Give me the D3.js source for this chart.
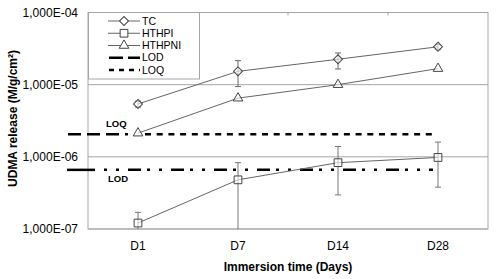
<!DOCTYPE html>
<html>
<head>
<meta charset="utf-8">
<script src="https://cdn.jsdelivr.net/npm/d3@7"></script>
<style>
  body { margin: 0; background: #fff; }
  svg { font-family: "Liberation Sans", Arial, sans-serif; }
</style>
</head>
<body>
<div id="chart"></div>
<script>
const days = ["D1", "D7", "D14", "D28"];
const tcVals = [5.4e-6, 1.53e-5, 2.25e-5, 3.35e-5];
const tcHi = [5.9e-6, 2.15e-5, 2.75e-5, 3.6e-5];
const tcLo = [4.9e-6, 9.4e-6, 1.65e-5, 3.1e-5];
const hthpiVals = [1.21e-7, 4.8e-7, 8.3e-7, 9.8e-7];
const hthpiHi = [1.7e-7, 8.3e-7, 1.39e-6, 1.6e-6];
const hthpiLo = [0, 0, 2.97e-7, 3.8e-7];
const hthpniVals = [2.13e-6, 6.5e-6, 1.0e-5, 1.67e-5];
const loq = 2.05e-6;
const lod = 6.6e-7;
const yTicks = [1e-7, 1e-6, 1e-5, 1e-4];
const yTickLabels = ["1,000E-07", "1,000E-06", "1,000E-05", "1,000E-04"];

const width = 500, height = 279;
const plot = { left: 88, right: 488, top: 12.5, bottom: 229 };

const svg = d3.select("#chart").append("svg")
  .attr("width", width)
  .attr("height", height);

const x = d3.scaleBand().domain(days).range([plot.left, plot.right]);
const y = d3.scaleLog().domain([1e-7, 1e-4]).range([plot.bottom, plot.top]);
const cx = d => x(d) + x.bandwidth() / 2;
const cy = v => y(Math.max(v, 1e-7));

// gridlines
svg.append("g").selectAll("line")
  .data(yTicks)
  .join("line")
  .attr("x1", plot.left).attr("x2", plot.right)
  .attr("y1", d => y(d)).attr("y2", d => y(d))
  .attr("stroke", "#a6a6a6");

// frame
svg.append("rect")
  .attr("x", plot.left).attr("y", plot.top)
  .attr("width", plot.right - plot.left)
  .attr("height", plot.bottom - plot.top)
  .attr("fill", "none")
  .attr("stroke", "#a6a6a6");

// small tick marks on top edge at band boundaries
svg.append("g").selectAll("line")
  .data(days.slice(1))
  .join("line")
  .attr("x1", d => x(d)).attr("x2", d => x(d))
  .attr("y1", plot.top).attr("y2", plot.top + 3)
  .attr("stroke", "#a6a6a6");

// y tick labels
svg.append("g").selectAll("text")
  .data(yTicks)
  .join("text")
  .attr("x", 78)
  .attr("y", d => y(d))
  .attr("dy", "0.35em")
  .attr("text-anchor", "end")
  .style("font-size", "12px")
  .attr("fill", "#000")
  .text((d, i) => yTickLabels[i]);

// x tick labels
svg.append("g").selectAll("text")
  .data(days)
  .join("text")
  .attr("x", d => cx(d))
  .attr("y", 250)
  .attr("text-anchor", "middle")
  .style("font-size", "12px")
  .text(d => d);

// axis titles
svg.append("text")
  .attr("x", 288).attr("y", 271)
  .attr("text-anchor", "middle")
  .style("font-size", "12px")
  .style("font-weight", "bold")
  .text("Immersion time (Days)");

svg.append("text")
  .attr("transform", `translate(17, 118.5) rotate(-90)`)
  .attr("text-anchor", "middle")
  .style("font-size", "12px")
  .style("font-weight", "bold")
  .text("UDMA release (M/g/cm²)");

// LOQ / LOD lines
svg.append("line")
  .attr("x1", 68).attr("x2", 128)
  .attr("y1", y(loq)).attr("y2", y(loq))
  .attr("stroke", "#000").attr("stroke-width", 2.5)
  .attr("stroke-dasharray", "13,6");
svg.append("line")
  .attr("x1", 145).attr("x2", 433)
  .attr("y1", y(loq)).attr("y2", y(loq))
  .attr("stroke", "#000").attr("stroke-width", 2.5)
  .attr("stroke-dasharray", "6,5.7");

svg.append("line")
  .attr("x1", 67).attr("x2", 95)
  .attr("y1", y(lod)).attr("y2", y(lod))
  .attr("stroke", "#000").attr("stroke-width", 2.5);
svg.append("line")
  .attr("x1", 104).attr("x2", 433)
  .attr("y1", y(lod)).attr("y2", y(lod))
  .attr("stroke", "#000").attr("stroke-width", 2.5)
  .attr("stroke-dasharray", "3,9,3,9,13,6");

svg.append("text")
  .attr("x", 106).attr("y", 127)
  .style("font-size", "9.5px").style("font-weight", "bold")
  .text("LOQ");
svg.append("text")
  .attr("x", 108).attr("y", 182)
  .style("font-size", "9.5px").style("font-weight", "bold")
  .text("LOD");

// error bars
function errorBars(hi, lo, color) {
  const g = svg.append("g").attr("stroke", color).attr("stroke-width", 1);
  days.forEach((d, i) => {
    g.append("line")
      .attr("x1", cx(d)).attr("x2", cx(d))
      .attr("y1", cy(hi[i])).attr("y2", cy(lo[i]));
    g.append("line")
      .attr("x1", cx(d) - 3).attr("x2", cx(d) + 3)
      .attr("y1", cy(hi[i])).attr("y2", cy(hi[i]));
    if (lo[i] > 1e-7) {
      g.append("line")
        .attr("x1", cx(d) - 3).attr("x2", cx(d) + 3)
        .attr("y1", cy(lo[i])).attr("y2", cy(lo[i]));
    }
  });
}
errorBars(tcHi, tcLo, "#666");
errorBars(hthpiHi, hthpiLo, "#777");

const line = d3.line().x((v, i) => cx(days[i])).y(v => y(v));

const symbols = {
  TC: d3.symbolSquare,
  HTHPI: d3.symbolSquare,
  HTHPNI: d3.symbolTriangle
};
const symSize = { TC: 40, HTHPI: 60, HTHPNI: 40 };
const symRot = { TC: 45, HTHPI: 0, HTHPNI: 0 };

function series(name, vals) {
  svg.append("path")
    .datum(vals)
    .attr("d", line)
    .attr("fill", "none")
    .attr("stroke", "#666")
    .attr("stroke-width", 1);
  svg.append("g").selectAll("path")
    .data(vals)
    .join("path")
    .attr("transform", (v, i) => `translate(${cx(days[i])},${y(v)}) rotate(${symRot[name]})`)
    .attr("d", d3.symbol().type(symbols[name]).size(symSize[name]))
    .attr("fill", "#fff")
    .attr("fill-opacity", 0.6)
    .attr("stroke", "#444")
    .attr("stroke-width", 1);
}
series("TC", tcVals);
series("HTHPI", hthpiVals);
series("HTHPNI", hthpniVals);

// legend
const legend = svg.append("g");
legend.append("rect")
  .attr("x", plot.left + 0.5).attr("y", 12.5)
  .attr("width", 111).attr("height", 66.5)
  .attr("fill", "#fff")
  .attr("stroke", "#a6a6a6");

const legendItems = [
  { name: "TC", sym: "TC" },
  { name: "HTHPI", sym: "HTHPI" },
  { name: "HTHPNI", sym: "HTHPNI" },
  { name: "LOD", dash: "14,5,5,0" },
  { name: "LOQ", dash: "5,5" }
];
const legendY = d3.scalePoint().domain(legendItems.map(d => d.name)).range([21, 70]);

legendItems.forEach(item => {
  const ly = legendY(item.name);
  if (item.sym) {
    legend.append("line")
      .attr("x1", 108).attr("x2", 140)
      .attr("y1", ly).attr("y2", ly)
      .attr("stroke", "#666");
    legend.append("path")
      .attr("transform", `translate(124,${ly}) rotate(${symRot[item.sym]})`)
      .attr("d", d3.symbol().type(symbols[item.sym]).size(symSize[item.sym]))
      .attr("fill", "#fff")
      .attr("stroke", "#444");
  } else {
    legend.append("line")
      .attr("x1", 109).attr("x2", 140)
      .attr("y1", ly).attr("y2", ly)
      .attr("stroke", "#000").attr("stroke-width", 2.5)
      .attr("stroke-dasharray", item.dash);
  }
  legend.append("text")
    .attr("x", 142).attr("y", ly)
    .attr("dy", "0.35em")
    .style("font-size", "10.5px")
    .text(item.name);
});
</script>
</body>
</html>
